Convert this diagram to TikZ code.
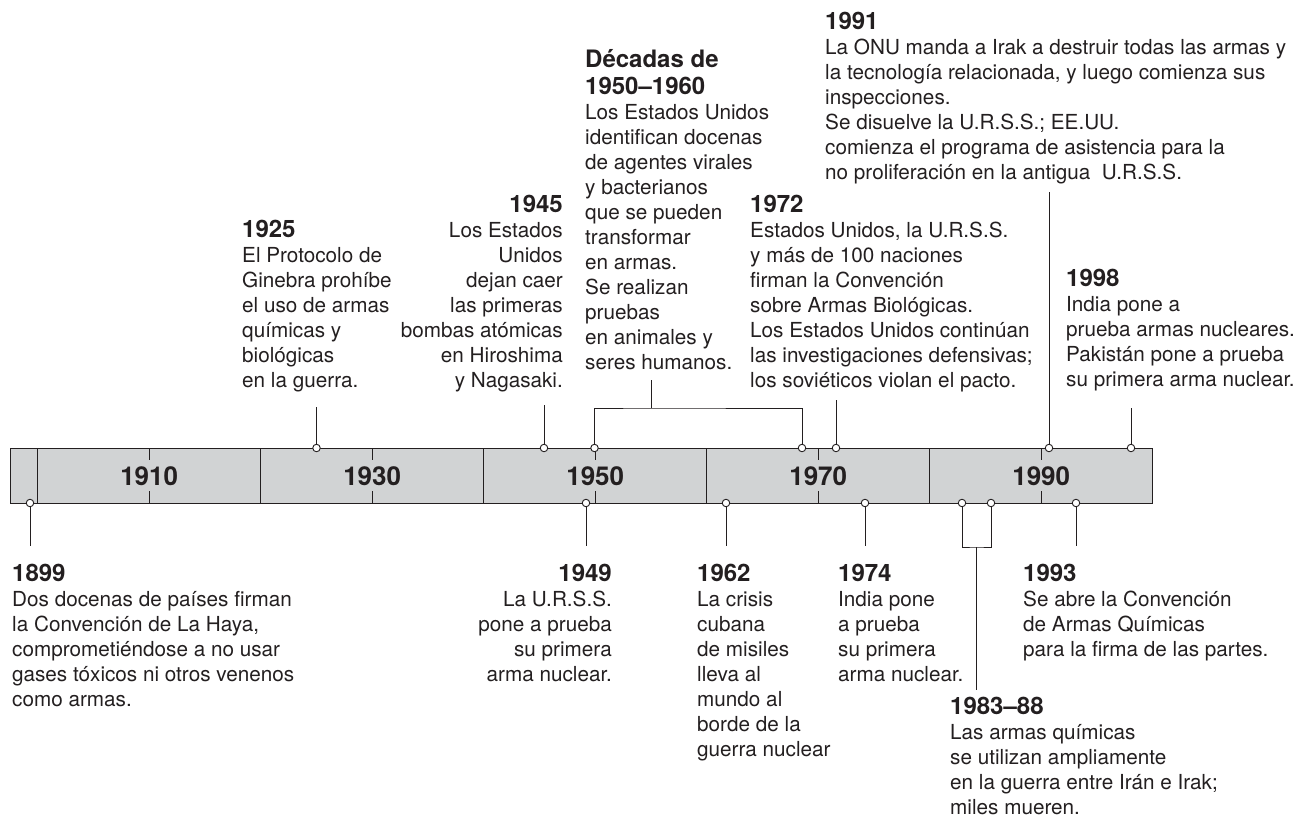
\documentclass[tikz,border=0pt]{standalone}
\usepackage{fontspec}
\setmainfont{TeX Gyre Heros}
\definecolor{ink}{HTML}{231F20}
\definecolor{barfill}{HTML}{D1D3D4}
\newcommand{\yr}[1]{{\bfseries\fontsize{24}{25}\selectfont #1}}
\begin{document}
\begin{tikzpicture}[x=1pt, y=-1pt,
                ring/.style = {circle, draw=ink, fill=white, line width=0.9pt, inner sep=0mm, minimum size=7.5pt},
                stem/.style = {draw=ink, line width=1pt},
                note/.style = {inner sep=0mm, text=ink, font=\fontsize{20.7}{25}\selectfont},
                decade/.style = {inner sep=0mm, text=ink, font=\bfseries\fontsize{26}{27}\selectfont},
                edge/.style = {draw=ink, line width=1pt},
            ]
            \useasboundingbox (0,0) rectangle (1307,817);

            % the bar
            \draw[edge, fill=barfill] (10,448) rectangle (1152.7,503);
            \draw[edge] (37.7,448) -- (37.7,503);
            \draw[edge] (260.7,448) -- (260.7,503);
            \draw[edge] (483.7,448) -- (483.7,503);
            \draw[edge] (706.7,448) -- (706.7,503);
            \draw[edge] (929.7,448) -- (929.7,503);
            \draw[edge] (149.2,448) -- ++(0,12) (149.2,503) -- ++(0,-12);
            \draw[edge] (372.2,448) -- ++(0,12) (372.2,503) -- ++(0,-12);
            \draw[edge] (595.2,448) -- ++(0,12) (595.2,503) -- ++(0,-12);
            \draw[edge] (818.2,448) -- ++(0,12) (818.2,503) -- ++(0,-12);
            \draw[edge] (1041.2,448) -- ++(0,12) (1041.2,503) -- ++(0,-12);

            \node (d1910) [decade] at (149.2,476) {1910};
            \node (d1930) [decade] at (372.2,476) {1930};
            \node (d1950) [decade] at (595.2,476) {1950};
            \node (d1970) [decade] at (818.2,476) {1970};
            \node (d1990) [decade] at (1041.2,476) {1990};

            % events above
            \node (c1925) [ring] at (316.5,448) {};
            \node (c1945) [ring] at (544,448) {};
            \node (c1950) [ring] at (594.5,448) {};
            \node (c1969) [ring] at (802,448) {};
            \node (c1972) [ring] at (836,448) {};
            \node (c1991) [ring] at (1049,448) {};
            \node (c1998) [ring] at (1131,448) {};

            \coordinate (s1925) at (316.5,407);
            \coordinate (s1945) at (544,405);
            \coordinate (b1950s) at (651,408);
            \coordinate (s1950s) at (651,380);
            \coordinate (s1972) at (836,400);
            \coordinate (s1991) at (1049,192);
            \coordinate (s1998) at (1131,408);

            \path[stem] (c1925) -- (s1925);
            \path[stem] (c1945) -- (s1945);
            \path[stem] (c1950) |- (b1950s) -| (c1969);
            \path[stem] (b1950s) -- (s1950s);
            \path[stem] (c1972) -- (s1972);
            \path[stem] (c1991) -- (s1991);
            \path[stem] (c1998) -- (s1998);

            \node (t1925) [note, anchor=north west, align=left] at (242,219.5)
                {\yr{1925}\\El Protocolo de\\Ginebra prohíbe\\el uso de armas\\químicas y\\biológicas\\en la guerra.};
            \node (t1945) [note, anchor=north east, align=right] at (563,194.5)
                {\yr{1945}\\Los Estados\\Unidos\\dejan caer\\las primeras\\bombas atómicas\\en Hiroshima\\y Nagasaki.};
            \node (t1950s) [note, anchor=north west, align=left] at (585,49)
                {\yr{Décadas de}\\[2pt]\yr{1950–1960}\\Los Estados Unidos\\identifican docenas\\de agentes virales\\y bacterianos\\que se pueden\\transformar\\en armas.\\Se realizan\\pruebas\\en animales y\\seres humanos.};
            \node (t1972) [note, anchor=north west, align=left] at (750,194.5)
                {\yr{1972}\\Estados Unidos, la U.R.S.S.\\y más de 100 naciones\\firman la Convención\\sobre Armas Biológicas.\\Los Estados Unidos continúan\\las investigaciones defensivas;\\los soviéticos violan el pacto.};
            \node (t1991) [note, anchor=north west, align=left] at (825,11.5)
                {\yr{1991}\\La ONU manda a Irak a destruir todas las armas y\\la tecnología relacionada, y luego comienza sus\\inspecciones.\\Se disuelve la U.R.S.S.; EE.UU.\\comienza el programa de asistencia para la\\no proliferación en la antigua\ \ U.R.S.S.};
            \node (t1998) [note, anchor=north west, align=left] at (1066,268.5)
                {\yr{1998}\\India pone a\\prueba armas nucleares.\\Pakistán pone a prueba\\su primera arma nuclear.};

            % events below
            \node (c1899) [ring] at (30,503) {};
            \node (c1949) [ring] at (586,503) {};
            \node (c1962) [ring] at (726,503) {};
            \node (c1974) [ring] at (865,503) {};
            \node (c1983) [ring] at (962,503) {};
            \node (c1988) [ring] at (991,503) {};
            \node (c1993) [ring] at (1076,503) {};

            \coordinate (s1899) at (30,546);
            \coordinate (s1949) at (586,546);
            \coordinate (s1962) at (726,546);
            \coordinate (s1974) at (865,546);
            \coordinate (b1983) at (976.5,547);
            \coordinate (s1983) at (976.5,690);
            \coordinate (s1993) at (1076,546);

            \path[stem] (c1899) -- (s1899);
            \path[stem] (c1949) -- (s1949);
            \path[stem] (c1962) -- (s1962);
            \path[stem] (c1974) -- (s1974);
            \path[stem] (c1983) |- (b1983) -| (c1988);
            \path[stem] (b1983) -- (s1983);
            \path[stem] (c1993) -- (s1993);

            \node (t1899) [note, anchor=north west, align=left] at (12,563.5)
                {\yr{1899}\\Dos docenas de países firman\\la Convención de La Haya,\\comprometiéndose a no usar\\gases tóxicos ni otros venenos\\como armas.};
            \node (t1949) [note, anchor=north east, align=right] at (612,563.5)
                {\yr{1949}\\La U.R.S.S.\\pone a prueba\\su primera\\arma nuclear.};
            \node (t1962) [note, anchor=north west, align=left] at (697,563.5)
                {\yr{1962}\\La crisis\\cubana\\de misiles\\lleva al\\mundo al\\borde de la\\guerra nuclear};
            \node (t1974) [note, anchor=north west, align=left] at (838,563.5)
                {\yr{1974}\\India pone\\a prueba\\su primera\\arma nuclear.};
            \node (t1983) [note, anchor=north west, align=left] at (950,696.5)
                {\yr{1983–88}\\Las armas químicas\\se utilizan ampliamente\\en la guerra entre Irán e Irak;\\miles mueren.};
            \node (t1993) [note, anchor=north west, align=left] at (1023,563.5)
                {\yr{1993}\\Se abre la Convención\\de Armas Químicas\\para la firma de las partes.};
        \end{tikzpicture}
\end{document}
